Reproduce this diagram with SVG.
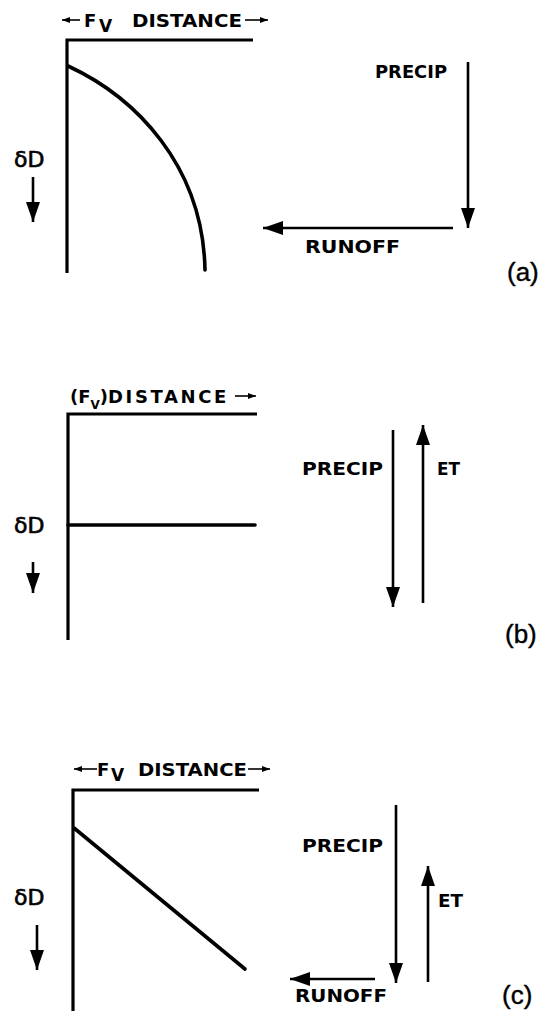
<svg xmlns="http://www.w3.org/2000/svg" width="545" height="1011" viewBox="0 0 545 1011">
<style>
.ax{stroke:#000;stroke-width:3.2;fill:none}
.cv{stroke:#000;stroke-width:3.6;fill:none;stroke-linecap:round}
.fl{stroke:#000;stroke-width:2.6;fill:none}
.sm{stroke:#000;stroke-width:1.6;fill:none}
.lb{font-family:"DejaVu Sans",sans-serif;font-weight:bold;font-size:17px;fill:#000}
.tt{font-family:"DejaVu Sans",sans-serif;font-weight:bold;font-size:18px;fill:#000}
.dd{font-family:"DejaVu Sans",sans-serif;font-size:22px;fill:#000;stroke:#000;stroke-width:0.7}
.pl{font-family:"Liberation Sans",sans-serif;font-size:26px;fill:#000;stroke:#000;stroke-width:0.4}
</style>
<defs>
<marker id="ah" markerUnits="userSpaceOnUse" markerWidth="24" markerHeight="16" refX="20" refY="7" orient="auto"><path d="M0,0 L20,7 L0,14 Z" fill="#000"/></marker>
<marker id="sh" markerUnits="userSpaceOnUse" markerWidth="10" markerHeight="8" refX="8" refY="3" orient="auto"><path d="M0,0 L8,3 L0,6 Z" fill="#000"/></marker>
</defs>
<g id="panel-a">
<path class="ax" d="M67,273 V40 H253"/>
<path class="cv" d="M68,66 C135,97 203,165 205,270"/>
<line class="sm" x1="80" y1="20" x2="62" y2="20" marker-end="url(#sh)"/>
<text class="tt" x="84" y="27">F</text>
<text class="lb" x="99" y="32" font-size="13">V</text>
<text class="tt" x="132" y="27" textLength="110" lengthAdjust="spacingAndGlyphs">DISTANCE</text>
<line class="sm" x1="245" y1="20" x2="268" y2="20" marker-end="url(#sh)"/>
<text class="dd" x="14" y="167">δD</text>
<line class="fl" x1="33" y1="177" x2="33" y2="222" marker-end="url(#ah)"/>
<text class="lb" x="375" y="78" textLength="72" lengthAdjust="spacingAndGlyphs">PRECIP</text>
<line class="fl" x1="468" y1="62" x2="468" y2="228" marker-end="url(#ah)"/>
<line class="fl" x1="453" y1="228" x2="263" y2="228" marker-end="url(#ah)"/>
<text class="lb" x="305" y="253" textLength="95" lengthAdjust="spacingAndGlyphs">RUNOFF</text>
<text class="pl" x="507" y="281">(a)</text>
</g>
<g id="panel-b">
<path class="ax" d="M68,640 V414 H257"/>
<line class="cv" x1="68" y1="525" x2="255" y2="525" stroke-linecap="butt"/>
<text class="tt" x="70" y="403">(F<tspan font-size="12" dy="6">V</tspan><tspan dy="-6">)</tspan><tspan letter-spacing="2.6">DISTANCE</tspan></text>
<line class="sm" x1="235" y1="396" x2="256" y2="396" marker-end="url(#sh)"/>
<text class="dd" x="14" y="533">δD</text>
<line class="fl" x1="33" y1="562" x2="33" y2="593" marker-end="url(#ah)"/>
<text class="lb" x="302" y="475" textLength="81" lengthAdjust="spacingAndGlyphs">PRECIP</text>
<line class="fl" x1="393" y1="430" x2="393" y2="607" marker-end="url(#ah)"/>
<line class="fl" x1="423" y1="603" x2="423" y2="425" marker-end="url(#ah)"/>
<text class="lb" x="437" y="475" textLength="23" lengthAdjust="spacingAndGlyphs">ET</text>
<text class="pl" x="505" y="643">(b)</text>
</g>
<g id="panel-c">
<path class="ax" d="M73,1011 V790 H259"/>
<line class="cv" x1="74" y1="828" x2="245" y2="969"/>
<line class="sm" x1="97" y1="769" x2="74" y2="769" marker-end="url(#sh)"/>
<text class="tt" x="97" y="776">F</text>
<text class="lb" x="111" y="781" font-size="13">V</text>
<text class="tt" x="138" y="776" textLength="109" lengthAdjust="spacingAndGlyphs">DISTANCE</text>
<line class="sm" x1="248" y1="769" x2="270" y2="769" marker-end="url(#sh)"/>
<text class="dd" x="14" y="905">δD</text>
<line class="fl" x1="37" y1="925" x2="37" y2="970" marker-end="url(#ah)"/>
<text class="lb" x="302" y="852" textLength="81" lengthAdjust="spacingAndGlyphs">PRECIP</text>
<line class="fl" x1="396" y1="805" x2="396" y2="983" marker-end="url(#ah)"/>
<line class="fl" x1="428" y1="982" x2="428" y2="866" marker-end="url(#ah)"/>
<text class="lb" x="438" y="907" textLength="25" lengthAdjust="spacingAndGlyphs">ET</text>
<line class="fl" x1="375" y1="979" x2="290" y2="979" marker-end="url(#ah)"/>
<text class="lb" x="295" y="1002" textLength="92" lengthAdjust="spacingAndGlyphs">RUNOFF</text>
<text class="pl" x="502" y="1004">(c)</text>
</g>
</svg>
